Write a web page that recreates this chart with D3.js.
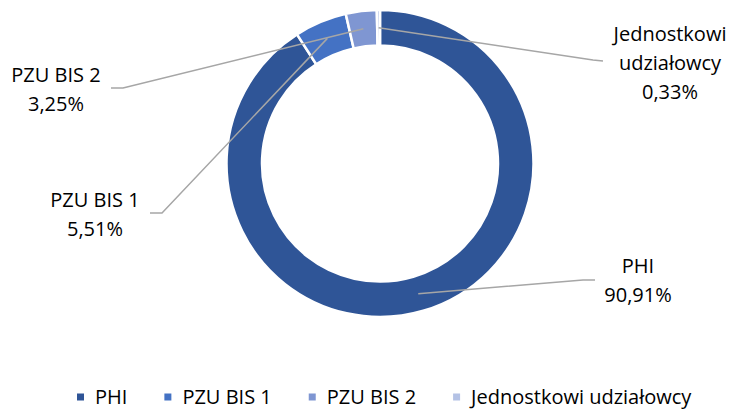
<!DOCTYPE html>
<html>
<head>
<meta charset="utf-8">
<script src="https://cdn.jsdelivr.net/npm/d3@7"></script>
<style>
  body { margin: 0; background: #fff; }
  text { font-family: "Open Sans", sans-serif; fill: #000; }
</style>
</head>
<body>
<div id="doughnut_chart"></div>
<script>
// chart data
const categories = ["PHI", "PZU BIS 1", "PZU BIS 2", "Jednostkowi udziałowcy"];
const shares = [90.91, 5.51, 3.25, 0.33];
const labelLines = [["PHI"], ["PZU BIS 1"], ["PZU BIS 2"], ["Jednostkowi", "udziałowcy"]];
const colors = ["#2f5597", "#4472c4", "#7f96d2", "#b4c2e5"];

// where Excel put the data labels (layout only)
const labelPos = [
  { x: 638, y: 273, elbow: [583, 280], end: [595, 280] },
  { x: 95, y: 207, elbow: [162, 213], end: [150, 213] },
  { x: 56, y: 82, elbow: [123, 88], end: [111, 88] },
  { x: 670, y: 41, elbow: [593, 60], end: [603, 61] }
];

const width = 735, height = 410;
const cx = 380, cy = 163.5;
const outerR = 153.5, innerR = 118;

const svg = d3.select("#doughnut_chart")
  .append("svg")
  .attr("width", width)
  .attr("height", height);

const pie = d3.pie().sort(null).value(d => d)(shares);
const arc = d3.arc().innerRadius(innerR).outerRadius(outerR);
const midArc = d3.arc().innerRadius((innerR + outerR) / 2).outerRadius((innerR + outerR) / 2);

const g = svg.append("g").attr("transform", `translate(${cx},${cy})`);

g.selectAll("path.slice")
  .data(pie)
  .enter()
  .append("path")
  .attr("class", "slice")
  .attr("d", arc)
  .attr("fill", (d, i) => colors[i])
  .attr("stroke", "#fff")
  .attr("stroke-width", 2.5);

// leader lines
pie.forEach((d, i) => {
  const c = midArc.centroid(d);
  const p = labelPos[i];
  svg.append("path")
    .attr("d", d3.line()([[cx + c[0], cy + c[1]], p.elbow, p.end]))
    .attr("fill", "none")
    .attr("stroke", "#a6a6a6")
    .attr("stroke-width", 1.5);
});

// data labels
const fmt = v => v.toFixed(2).replace(".", ",") + "%";
labelLines.forEach((lines, i) => {
  const p = labelPos[i];
  const t = svg.append("text")
    .attr("text-anchor", "middle")
    .style("font-size", "20px");
  lines.concat([fmt(shares[i])]).forEach((s, j) => {
    t.append("tspan").attr("x", p.x).attr("y", p.y + j * 29).text(s);
  });
});

// legend
let lx = 77;
const ly = 397;
categories.forEach((c, i) => {
  svg.append("rect")
    .attr("x", lx).attr("y", ly - 3.5)
    .attr("width", 7).attr("height", 7)
    .attr("fill", colors[i]);
  const t = svg.append("text")
    .attr("x", lx + 18).attr("y", ly + 7)
    .style("font-size", "20px")
    .text(c);
  lx = lx + 18 + t.node().getComputedTextLength() + 37;
});
</script>
</body>
</html>
